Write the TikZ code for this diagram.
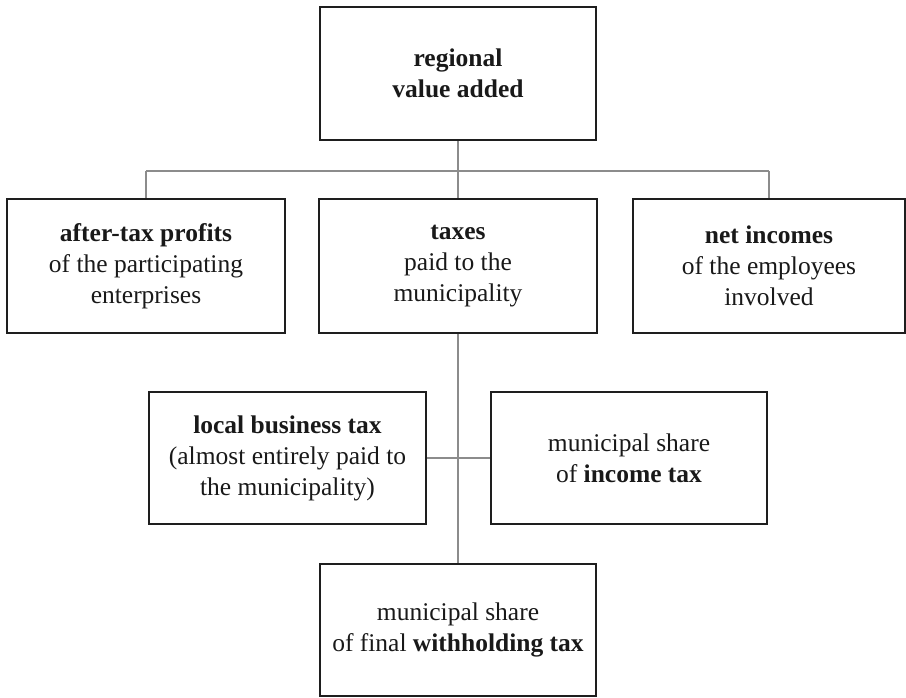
\documentclass[tikz,border=0pt]{standalone}
\usepackage{fontspec}
\setmainfont{Liberation Serif}
\definecolor{boxline}{HTML}{1E1E1E}
\definecolor{connline}{HTML}{8C8C8C}
\tikzset{
  box/.style={draw=boxline, line width=2.8pt, rectangle, align=center, inner sep=0pt,
    font=\fontsize{25.5}{31}\selectfont, text=black!90},
  conn/.style={draw=connline, line width=1.8pt}
}
\begin{document}
\begin{tikzpicture}[x=1pt,y=-1pt]
\useasboundingbox (0,0) rectangle (906,698);
\node[box, minimum width=276pt, minimum height=133pt] (top) at (458,73.5) {\textbf{regional}\\\textbf{value added}};
\node[box, minimum width=278pt, minimum height=134pt] (left) at (146,266) {\textbf{after-tax profits}\\of the participating\\enterprises};
\node[box, minimum width=278pt, minimum height=134pt] (mid) at (458,266) {\textbf{taxes}\\paid to the\\municipality};
\node[box, minimum width=272pt, minimum height=134pt] (right) at (769,266) {\textbf{net incomes}\\of the employees\\involved};
\node[box, minimum width=277pt, minimum height=132pt] (ltax) at (287.5,458) {\textbf{local business tax}\\(almost entirely paid to\\the municipality)};
\node[box, minimum width=276pt, minimum height=132pt] (rtax) at (629,458) {municipal share\\of \textbf{income tax}};
\node[box, minimum width=276pt, minimum height=132pt] (bottom) at (458,630) {municipal share\\of final \textbf{withholding tax}};
\coordinate (bus) at (458,171);
\draw[conn] (top.south) -- (bus);
\draw[conn] (left.north |- bus) -- (right.north |- bus);
\draw[conn] (left.north) -- (left.north |- bus);
\draw[conn] (mid.north) -- (bus);
\draw[conn] (right.north) -- (right.north |- bus);
\draw[conn] (mid.south) -- (bottom.north);
\draw[conn] (ltax.east) -- (rtax.west);
\end{tikzpicture}
\end{document}
